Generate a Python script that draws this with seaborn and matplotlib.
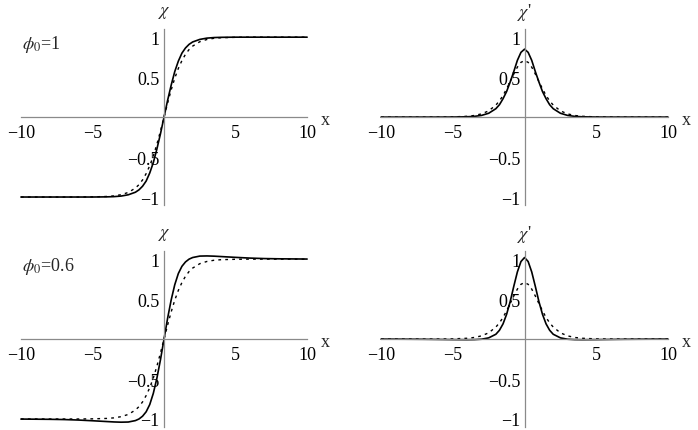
import numpy as np
import seaborn as sns
import matplotlib
matplotlib.use("Agg")
import matplotlib.pyplot as plt
from matplotlib import font_manager

# sample positions along x
x_vals = [-10, -8, -7, -6, -5, -4, -3.5, -3, -2.5, -2, -1.75, -1.5, -1.25, -1, -0.75, -0.5, -0.25,
          0, 0.25, 0.5, 0.75, 1, 1.25, 1.5, 1.75, 2, 2.5, 3, 3.5, 4, 5, 6, 7, 8, 10]

# dashed reference curve (same in both rows)
chi_dashed = [-1.0, -1.0, -1.0, -1.0, -0.998, -0.993, -0.986, -0.971, -0.943, -0.888, -0.845, -0.786, -0.707,
              -0.609, -0.487, -0.340, -0.175,
              0, 0.175, 0.340, 0.487, 0.609, 0.707, 0.786, 0.845, 0.888, 0.943, 0.971, 0.986, 0.993, 0.998,
              1.0, 1.0, 1.0, 1.0]
dchi_dashed = [0, 0, 0, 0.0006, 0.0024, 0.010, 0.020, 0.040, 0.078, 0.150, 0.203, 0.270, 0.354, 0.445, 0.539,
               0.625, 0.685,
               0.707, 0.685, 0.625, 0.539, 0.445, 0.354, 0.270, 0.203, 0.150, 0.078, 0.040, 0.020, 0.010, 0.0024,
               0.0006, 0, 0, 0]

# phi0 = 1, solid curve
chi_solid_1 = [-1.0, -1.0, -1.0, -1.0, -1.0, -0.998, -0.995, -0.988, -0.972, -0.94, -0.91, -0.865, -0.80,
               -0.70, -0.57, -0.40, -0.21,
               0, 0.21, 0.40, 0.57, 0.70, 0.80, 0.865, 0.91, 0.94, 0.972, 0.988, 0.995, 0.998, 1.0,
               1.0, 1.0, 1.0, 1.0]
dchi_solid_1 = [0, 0, 0, 0, 0.0007, 0.004, 0.009, 0.021, 0.048, 0.105, 0.155, 0.23, 0.32, 0.44, 0.57,
                0.71, 0.81,
                0.85, 0.81, 0.71, 0.57, 0.44, 0.32, 0.23, 0.155, 0.105, 0.048, 0.021, 0.009, 0.004, 0.0007,
                0, 0, 0, 0]

# phi0 = 0.6, solid curve
chi_solid_06 = [-1.001, -1.004, -1.007, -1.013, -1.022, -1.032, -1.037, -1.04, -1.038, -1.02, -1.0, -0.965,
                -0.91, -0.82, -0.68, -0.49, -0.26,
                0, 0.26, 0.49, 0.68, 0.82, 0.91, 0.965, 1.0, 1.02, 1.038, 1.04, 1.037, 1.032, 1.022,
                1.013, 1.007, 1.004, 1.001]
dchi_solid_06 = [-0.0005, -0.002, -0.003, -0.005, -0.007, -0.008, -0.007, -0.002, 0.015, 0.06, 0.11, 0.19,
                 0.31, 0.47, 0.66, 0.84, 0.97,
                 1.02, 0.97, 0.84, 0.66, 0.47, 0.31, 0.19, 0.11, 0.06, 0.015, -0.002, -0.007, -0.008, -0.007,
                 -0.005, -0.003, -0.002, -0.0005]

x_ticks = [-10, -5, 5, 10]
y_ticks = [-1, -0.5, 0.5, 1]
row_labels = [r"$\phi_0$=1", r"$\phi_0$=0.6"]

sns.set_style("white")
installed = {f.name for f in font_manager.fontManager.ttflist}
serif = [n for n in ["Liberation Serif", "Nimbus Roman", "Times New Roman", "DejaVu Serif"] if n in installed]
plt.rcParams["font.family"] = serif + ["DejaVu Sans"]
plt.rcParams["mathtext.fontset"] = "stix"
plt.rcParams["axes.unicode_minus"] = True

fig = plt.figure(figsize=(6.98, 4.31), dpi=100)

panels = [
    ([0.030, 0.522, 0.410, 0.408], chi_solid_1, chi_dashed, r"$\chi$", row_labels[0]),
    ([0.546, 0.522, 0.411, 0.408], dchi_solid_1, dchi_dashed, r"$\chi$'", None),
    ([0.030, 0.007, 0.410, 0.408], chi_solid_06, chi_dashed, r"$\chi$", row_labels[1]),
    ([0.546, 0.007, 0.411, 0.408], dchi_solid_06, dchi_dashed, r"$\chi$'", None),
]

axis_col = "#8a8a8a"
for rect, solid, dashed, ylab, rowlab in panels:
    ax = fig.add_axes(rect)
    sns.lineplot(x=x_vals, y=dashed, ax=ax, color="black", linewidth=1.0,
                 linestyle=(0, (2, 3)), clip_on=False)
    sns.lineplot(x=x_vals, y=solid, ax=ax, color="black", linewidth=1.2, clip_on=False)
    ax.set_xlim(-10, 10)
    ax.set_ylim(-1.1, 1.1)
    for side in ["top", "right"]:
        ax.spines[side].set_visible(False)
    ax.spines["left"].set_position("zero")
    ax.spines["bottom"].set_position("zero")
    for side in ["left", "bottom"]:
        ax.spines[side].set_color(axis_col)
        ax.spines[side].set_linewidth(0.9)
    ax.set_xticks(x_ticks)
    ax.set_xticklabels([str(t).replace("-", "\u2212") for t in x_ticks])
    ax.set_yticks(y_ticks)
    ax.set_yticklabels(["\u22121", "\u22120.5", "0.5", "1"])
    ax.tick_params(axis="both", direction="in", length=4, width=0.8, color=axis_col,
                   labelsize=13, labelcolor="black")
    ax.tick_params(axis="x", pad=5)
    ax.tick_params(axis="y", pad=3)
    ax.set_xlabel("")
    ax.set_ylabel("")
    ax.text(0, 1.32, ylab, ha="center", va="center", fontsize=13)
    ax.text(11.3, -0.03, "x", ha="center", va="center", fontsize=13, clip_on=False)
    if rowlab:
        ax.text(-9.95, 0.92, rowlab, ha="left", va="center", fontsize=13)
    ax.patch.set_alpha(0)

fig.savefig("out.png", dpi=100)
